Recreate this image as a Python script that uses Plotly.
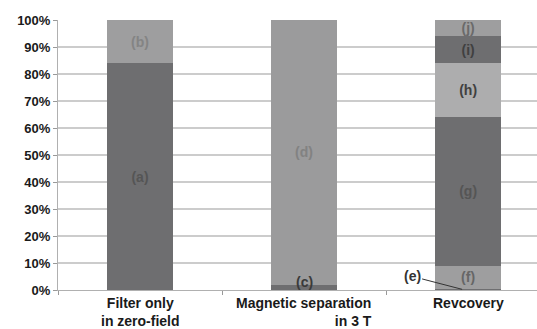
import plotly.graph_objects as go

categories = ["Filter only", "Magnetic separation", "Revcovery"]
x_labels = ["Filter only<br>in zero-field", "Magnetic separation<br>in 3 T", "Revcovery"]
x_label_align = ["center", "right", "center"]

seg_labels = ["(a)", "(b)", "(c)", "(d)", "(e)", "(f)", "(g)", "(h)", "(i)", "(j)"]
seg_category = [0, 0, 1, 1, 2, 2, 2, 2, 2, 2]
seg_values = [84, 16, 2, 98, 0.5, 8.5, 55, 20, 10, 6]
seg_colors = ["#6e6e70", "#9e9e9f", "#6e6e70", "#9b9b9c", "#6e6e70",
              "#9e9e9f", "#6e6e70", "#adadae", "#6e6e70", "#9e9e9f"]
seg_text_colors = ["#555555", "#848484", "#333333", "#828282", "#333333",
                   "#666666", "#555555", "#404040", "#404040", "#6a6a6a"]
seg_inside_text = [True, True, False, True, False, True, True, True, True, True]

yticks = [0, 10, 20, 30, 40, 50, 60, 70, 80, 90, 100]
ytick_labels = [f"{v}%" for v in yticks]

FONT = "Liberation Sans"

fig = go.Figure()
for lab, ci, v, col, tcol, inside in zip(seg_labels, seg_category, seg_values,
                                        seg_colors, seg_text_colors, seg_inside_text):
    fig.add_trace(go.Bar(
        x=[categories[ci]], y=[v],
        marker=dict(color=col, line=dict(width=0)),
        text=[f"<b>{lab}</b>" if inside else ""],
        textposition="inside", insidetextanchor="middle",
        textangle=0,
        textfont=dict(color=tcol, size=14, family=FONT),
        width=0.4, showlegend=False, hoverinfo="skip",
    ))

cum = {}
pos = []
for ci, v in zip(seg_category, seg_values):
    base = cum.get(ci, 0)
    pos.append(base + v / 2)
    cum[ci] = base + v

c_idx = seg_labels.index("(c)")
fig.add_annotation(x=categories[1], y=pos[c_idx] + 2, text="<b>(c)</b>", showarrow=False,
                   font=dict(size=14, color="#3a3a3a", family=FONT))
e_idx = seg_labels.index("(e)")
fig.add_annotation(x=categories[2], y=pos[e_idx], ax=-50, ay=-13, text="<b>(e)</b>",
                   showarrow=True, arrowhead=0, arrowwidth=1, arrowcolor="#333333",
                   xshift=-6,
                   font=dict(size=14, color="#333333", family=FONT))

for cat, lab, al in zip(categories, x_labels, x_label_align):
    fig.add_annotation(x=cat, y=0, yref="paper", yanchor="top", yshift=-3,
                       text=f"<b>{lab}</b>", align=al, showarrow=False,
                       font=dict(size=14, color="#1a1a1a", family=FONT))

fig.update_layout(
    barmode="stack", width=537, height=329,
    margin=dict(l=58, r=0, t=20, b=39, autoexpand=False),
    plot_bgcolor="white", paper_bgcolor="white",
    uniformtext=dict(minsize=14, mode="show"),
    xaxis=dict(type="category", range=[-0.5, 2.42], showticklabels=False,
               ticks="outside", tickson="boundaries", ticklen=4, tickcolor="#999999",
               showline=True, linecolor="#b0b0b0", linewidth=1, showgrid=False),
    yaxis=dict(range=[0, 100], tickvals=yticks, ticktext=ytick_labels,
               ticks="outside", ticklen=4, tickcolor="#999999",
               showline=True, linecolor="#b0b0b0", linewidth=1,
               showgrid=True, gridcolor="#cccccc", gridwidth=1.5,
               tickfont=dict(size=13, color="#1a1a1a", family=FONT, weight="bold"),
               zeroline=False),
)

fig.write_html("out.html", config={"displayModeBar": False},
               post_script="document.body.style.margin='0px';document.body.style.overflow='hidden';")
